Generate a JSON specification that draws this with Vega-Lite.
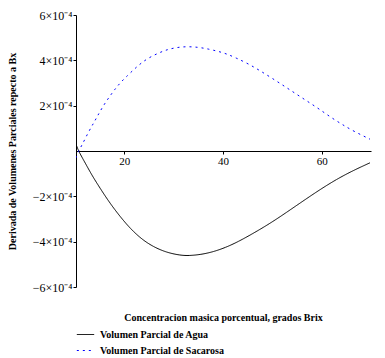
{
  "$schema": "https://vega.github.io/schema/vega-lite/v6.json",
  "width": 295,
  "height": 272,
  "autosize": {"type": "none"},
  "padding": {"left": 76, "top": 15, "right": 14, "bottom": 71},
  "background": "white",
  "config": {
    "view": {"stroke": null},
    "axis": {
      "grid": false,
      "domainColor": "black",
      "domainWidth": 1,
      "tickColor": "black",
      "tickWidth": 1,
      "labelColor": "black",
      "labelFont": "Liberation Serif",
      "titleFont": "Liberation Serif",
      "titleColor": "black",
      "titleFontWeight": "bold"
    }
  },
  "data": {
    "values": [
      {"serie": "Volumen Parcial de Agua", "brix": 10.2, "derivada": 0.00003},
      {"serie": "Volumen Parcial de Agua", "brix": 10.7, "derivada": 0.0},
      {"serie": "Volumen Parcial de Agua", "brix": 12.1, "derivada": -0.000054},
      {"serie": "Volumen Parcial de Agua", "brix": 13.4, "derivada": -0.000106},
      {"serie": "Volumen Parcial de Agua", "brix": 15.1, "derivada": -0.000165},
      {"serie": "Volumen Parcial de Agua", "brix": 17.1, "derivada": -0.000231},
      {"serie": "Volumen Parcial de Agua", "brix": 19.2, "derivada": -0.000291},
      {"serie": "Volumen Parcial de Agua", "brix": 21.2, "derivada": -0.000342},
      {"serie": "Volumen Parcial de Agua", "brix": 23.5, "derivada": -0.000389},
      {"serie": "Volumen Parcial de Agua", "brix": 25.9, "derivada": -0.000423},
      {"serie": "Volumen Parcial de Agua", "brix": 28.6, "derivada": -0.000448},
      {"serie": "Volumen Parcial de Agua", "brix": 31.3, "derivada": -0.00046},
      {"serie": "Volumen Parcial de Agua", "brix": 33.0, "derivada": -0.000462},
      {"serie": "Volumen Parcial de Agua", "brix": 35.5, "derivada": -0.000457},
      {"serie": "Volumen Parcial de Agua", "brix": 38.0, "derivada": -0.000445},
      {"serie": "Volumen Parcial de Agua", "brix": 40.5, "derivada": -0.000426},
      {"serie": "Volumen Parcial de Agua", "brix": 43.0, "derivada": -0.000401},
      {"serie": "Volumen Parcial de Agua", "brix": 46.0, "derivada": -0.000365},
      {"serie": "Volumen Parcial de Agua", "brix": 49.5, "derivada": -0.00032},
      {"serie": "Volumen Parcial de Agua", "brix": 52.8, "derivada": -0.000272},
      {"serie": "Volumen Parcial de Agua", "brix": 56.2, "derivada": -0.000221},
      {"serie": "Volumen Parcial de Agua", "brix": 59.6, "derivada": -0.000171},
      {"serie": "Volumen Parcial de Agua", "brix": 63.0, "derivada": -0.000125},
      {"serie": "Volumen Parcial de Agua", "brix": 66.3, "derivada": -0.000087},
      {"serie": "Volumen Parcial de Agua", "brix": 69.8, "derivada": -0.000052},
      {"serie": "Volumen Parcial de Sacarosa", "brix": 10.2, "derivada": -0.00003},
      {"serie": "Volumen Parcial de Sacarosa", "brix": 10.7, "derivada": 0.0},
      {"serie": "Volumen Parcial de Sacarosa", "brix": 11.4, "derivada": 0.000025},
      {"serie": "Volumen Parcial de Sacarosa", "brix": 12.7, "derivada": 0.000083},
      {"serie": "Volumen Parcial de Sacarosa", "brix": 13.9, "derivada": 0.000128},
      {"serie": "Volumen Parcial de Sacarosa", "brix": 14.8, "derivada": 0.000164},
      {"serie": "Volumen Parcial de Sacarosa", "brix": 15.8, "derivada": 0.000202},
      {"serie": "Volumen Parcial de Sacarosa", "brix": 17.0, "derivada": 0.00024},
      {"serie": "Volumen Parcial de Sacarosa", "brix": 18.1, "derivada": 0.000273},
      {"serie": "Volumen Parcial de Sacarosa", "brix": 19.3, "derivada": 0.000304},
      {"serie": "Volumen Parcial de Sacarosa", "brix": 20.6, "derivada": 0.000332},
      {"serie": "Volumen Parcial de Sacarosa", "brix": 22.0, "derivada": 0.000361},
      {"serie": "Volumen Parcial de Sacarosa", "brix": 23.4, "derivada": 0.000388},
      {"serie": "Volumen Parcial de Sacarosa", "brix": 25.0, "derivada": 0.000412},
      {"serie": "Volumen Parcial de Sacarosa", "brix": 26.9, "derivada": 0.000432},
      {"serie": "Volumen Parcial de Sacarosa", "brix": 28.6, "derivada": 0.000447},
      {"serie": "Volumen Parcial de Sacarosa", "brix": 30.6, "derivada": 0.000457},
      {"serie": "Volumen Parcial de Sacarosa", "brix": 32.7, "derivada": 0.000461},
      {"serie": "Volumen Parcial de Sacarosa", "brix": 35.0, "derivada": 0.000458},
      {"serie": "Volumen Parcial de Sacarosa", "brix": 37.0, "derivada": 0.00045},
      {"serie": "Volumen Parcial de Sacarosa", "brix": 39.0, "derivada": 0.00044},
      {"serie": "Volumen Parcial de Sacarosa", "brix": 40.8, "derivada": 0.000428},
      {"serie": "Volumen Parcial de Sacarosa", "brix": 42.7, "derivada": 0.00041},
      {"serie": "Volumen Parcial de Sacarosa", "brix": 45.2, "derivada": 0.000384},
      {"serie": "Volumen Parcial de Sacarosa", "brix": 47.6, "derivada": 0.000353},
      {"serie": "Volumen Parcial de Sacarosa", "brix": 50.1, "derivada": 0.000319},
      {"serie": "Volumen Parcial de Sacarosa", "brix": 52.5, "derivada": 0.000285},
      {"serie": "Volumen Parcial de Sacarosa", "brix": 54.8, "derivada": 0.000252},
      {"serie": "Volumen Parcial de Sacarosa", "brix": 57.2, "derivada": 0.000218},
      {"serie": "Volumen Parcial de Sacarosa", "brix": 59.5, "derivada": 0.000185},
      {"serie": "Volumen Parcial de Sacarosa", "brix": 61.9, "derivada": 0.000148},
      {"serie": "Volumen Parcial de Sacarosa", "brix": 64.3, "derivada": 0.000115},
      {"serie": "Volumen Parcial de Sacarosa", "brix": 66.6, "derivada": 0.000086},
      {"serie": "Volumen Parcial de Sacarosa", "brix": 69.8, "derivada": 0.000052}
    ]
  },
  "mark": {"type": "line", "interpolate": "basis", "strokeWidth": 1, "clip": true},
  "encoding": {
    "x": {
      "field": "brix",
      "type": "quantitative",
      "scale": {"domain": [10.2, 70], "nice": false, "zero": false},
      "axis": {
        "values": [20, 40, 60],
        "offset": -136,
        "tickSize": 3,
        "labelPadding": 1,
        "labelFont": "Liberation Serif",
        "labelFontSize": 11,
        "title": "Concentracion masica porcentual, grados Brix",
        "titleFontSize": 10,
        "titleX": 147,
        "titleY": 166,
        "titleBaseline": "middle",
        "titleAlign": "center"
      }
    },
    "y": {
      "field": "derivada",
      "type": "quantitative",
      "scale": {"domain": [-0.0006, 0.0006], "nice": false},
      "axis": {
        "values": [-0.0006, -0.0004, -0.0002, 0.0002, 0.0004, 0.0006],
        "labelExpr": "(datum.value < 0 ? '−' : '') + abs(round(datum.value * 10000)) + '×10⁻⁴'",
        "tickSize": 3,
        "labelPadding": 1,
        "labelFont": "Liberation Serif",
        "labelFontSize": 12,
        "title": "Derivada de Volumenes Parciales repecto a Bx",
        "titleFontSize": 10,
        "titleX": -64,
        "titleY": 136,
        "titleAngle": 270,
        "titleAlign": "center",
        "titleBaseline": "middle"
      }
    },
    "color": {
      "field": "serie",
      "type": "nominal",
      "scale": {"domain": ["Volumen Parcial de Agua", "Volumen Parcial de Sacarosa"], "range": ["#000000", "#0000ff"]},
      "legend": {
        "title": null,
        "orient": "none",
        "legendX": 0,
        "legendY": 310,
        "symbolType": "stroke",
        "symbolSize": 300,
        "symbolStrokeWidth": 1,
        "labelFont": "Liberation Serif",
        "labelFontWeight": "bold",
        "labelFontSize": 10,
        "labelColor": "black",
        "rowPadding": 1,
        "labelOffset": 5,
        "padding": 0
      }
    },
    "strokeDash": {
      "field": "serie",
      "type": "nominal",
      "scale": {"domain": ["Volumen Parcial de Agua", "Volumen Parcial de Sacarosa"], "range": [[1, 0], [2, 4]]},
      "legend": {
        "title": null,
        "orient": "none",
        "legendX": 0,
        "legendY": 310,
        "symbolType": "stroke",
        "symbolSize": 300,
        "symbolStrokeWidth": 1,
        "labelFont": "Liberation Serif",
        "labelFontWeight": "bold",
        "labelFontSize": 10,
        "labelColor": "black",
        "rowPadding": 1,
        "labelOffset": 5,
        "padding": 0
      }
    }
  }
}
